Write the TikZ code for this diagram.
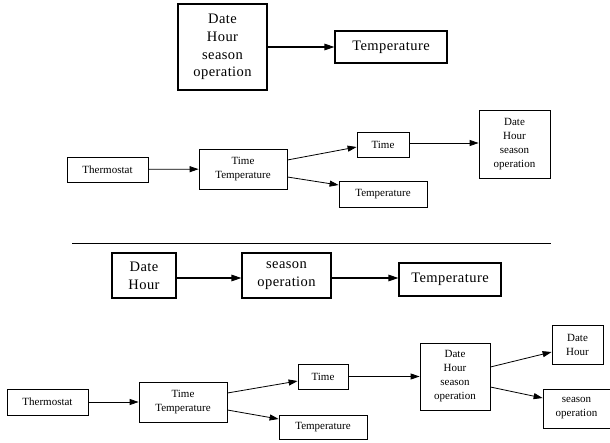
\documentclass[tikz,border=0pt]{standalone}
\usepackage{fontspec}
\setmainfont{Liberation Serif}
\newfontfamily\bigfont[LetterSpace=3]{Liberation Serif}
\usetikzlibrary{arrows.meta}
\tikzset{
  bigbox/.style={draw, line width=1.1pt, inner sep=0pt, align=center,
    font=\bigfont\fontsize{14.5}{17.7}\selectfont},
  smallbox/.style={draw, line width=0.8pt, inner sep=0pt, align=center,
    font=\fontsize{11}{14}\selectfont},
  bigarrow/.style={line width=1.1pt, -{Triangle[length=10pt,width=6.5pt]}},
  smallarrow/.style={line width=0.8pt, -{Triangle[length=9pt,width=6pt]}},
}
\begin{document}
\begin{tikzpicture}[x=1pt,y=-1pt]
\useasboundingbox (0,0) rectangle (610,442);
% top diagram
\node[bigbox, minimum width=89pt, minimum height=86pt] (A1) at (222.5,47) {Date\\Hour\\season\\operation};
\node[bigbox, minimum width=112pt, minimum height=32pt] (A2) at (391,47) {Temperature};
\draw[bigarrow] (A1) -- (A2);
% second diagram
\node[smallbox, minimum width=81pt, minimum height=25pt] (B1) at (107.5,169.5) {Thermostat};
\node[smallbox, minimum width=88pt, minimum height=40pt] (B2) at (243,169) {Time\\Temperature};
\node[smallbox, minimum width=52pt, minimum height=25pt] (B3) at (383,144.5) {Time};
\node[smallbox, minimum width=88pt, minimum height=26pt] (B4) at (383,194) {Temperature};
\node[smallbox, minimum width=71pt, minimum height=68pt] (B5) at (514.5,144) {Date\\Hour\\season\\operation};
\draw[smallarrow] (B1) -- (B2);
\draw[smallarrow] ([yshift=9pt]B2.east) -- ([yshift=-2.5pt]B3.west);
\draw[smallarrow] ([yshift=-8pt]B2.east) -- ([yshift=9pt]B4.west);
\draw[smallarrow] (B3.east |- 0,143) -- (B5.west |- 0,143);
% separator
\coordinate (L1) at (72,243);
\coordinate (L2) at (551,243);
\draw[line width=0.9pt] (L1) -- (L2);
% third diagram
\node[bigbox, minimum width=64pt, minimum height=45pt] (C1) at (144,275.5) {Date\\Hour};
\node[bigbox, minimum width=89pt, minimum height=45pt] (C2) at (286.5,275.5) {season\\operation};
\node[bigbox, minimum width=102pt, minimum height=33pt] (C3) at (450,279.5) {Temperature};
\draw[bigarrow] ([yshift=-2.5pt]C1.east) -- ([yshift=-2.5pt]C2.west);
\draw[bigarrow] ([yshift=-2.5pt]C2.east) -- (C3.west |- 0,278);
% fourth diagram
\node[smallbox, minimum width=81pt, minimum height=26pt] (D1) at (47.5,402) {Thermostat};
\node[smallbox, minimum width=88pt, minimum height=40pt] (D2) at (183,402) {Time\\Temperature};
\node[smallbox, minimum width=50pt, minimum height=25pt] (D3) at (323,376.5) {Time};
\node[smallbox, minimum width=88pt, minimum height=24pt] (D4) at (323,427) {Temperature};
\node[smallbox, minimum width=70pt, minimum height=67pt] (D5) at (455,376.5) {Date\\Hour\\season\\operation};
\node[smallbox, minimum width=51pt, minimum height=39pt] (D6) at (577.5,344.5) {Date\\Hour};
\node[smallbox, minimum width=67pt, minimum height=39pt] (D7) at (576.5,408.5) {season\\operation};
\draw[smallarrow] (D1) -- (D2);
\draw[smallarrow] ([yshift=9pt]D2.east) -- ([yshift=-4.5pt]D3.west);
\draw[smallarrow] ([yshift=-8pt]D2.east) -- ([yshift=8pt]D4.west);
\draw[smallarrow] (D3) -- (D5);
\draw[smallarrow] ([yshift=9.5pt]D5.east) -- ([yshift=-7.5pt]D6.west);
\draw[smallarrow] ([yshift=-10.5pt]D5.east) -- ([yshift=10.5pt]D7.west);
\end{tikzpicture}
\end{document}
